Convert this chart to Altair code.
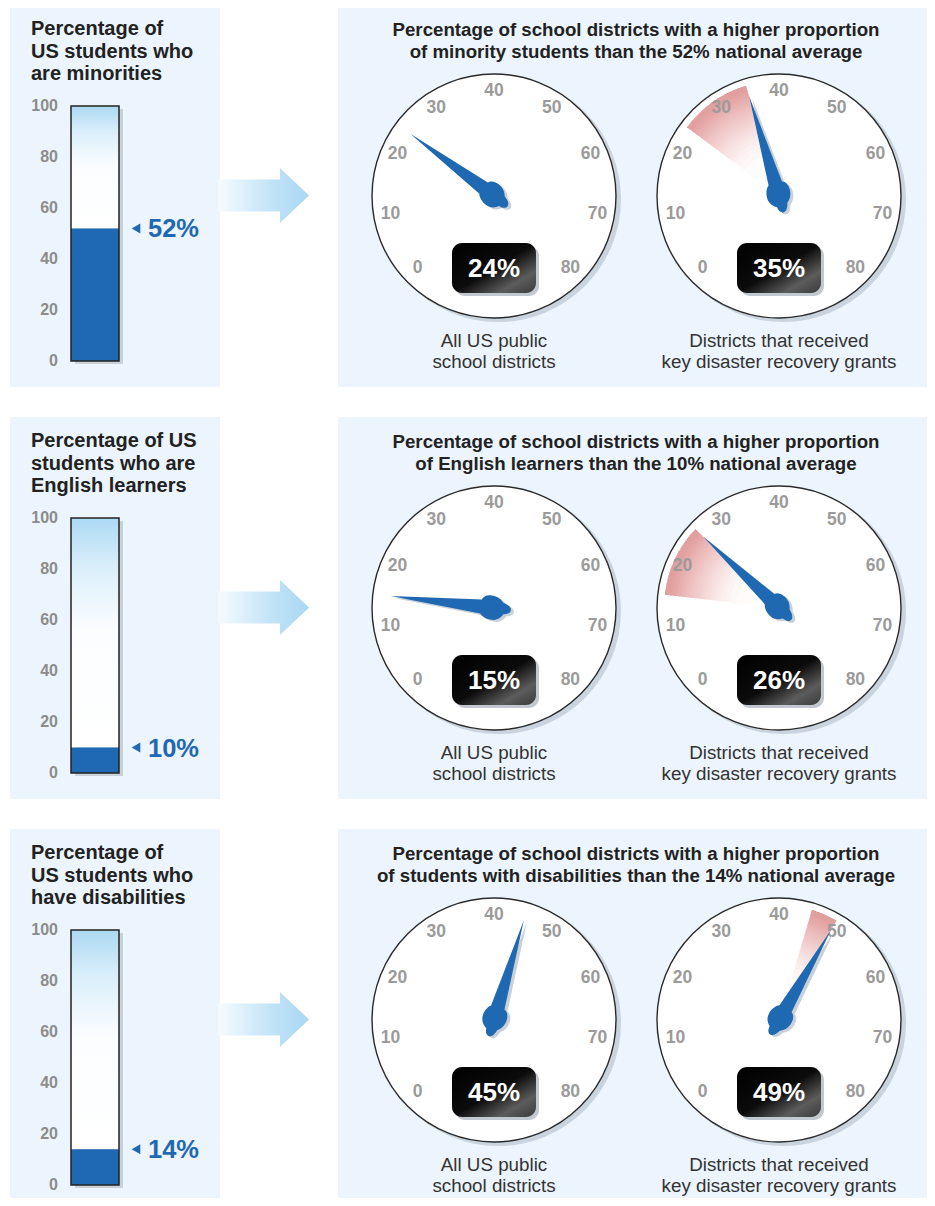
import re
import math
import altair as alt
import pandas as pd

# ---------------- data ----------------
LEFT_TITLES = [
    ["Percentage of", "US students who", "are minorities"],
    ["Percentage of US", "students who are", "English learners"],
    ["Percentage of", "US students who", "have disabilities"],
]
GROUPS = ["minority students", "English learners", "students with disabilities"]
NATIONAL = [52, 10, 14]          # national average share (%)
ALL_US = [24, 15, 45]            # all US public school districts (%)
GRANTS = [35, 26, 49]            # districts that received grants (%)
CAPTIONS = [["All US public", "school districts"],
            ["Districts that received", "key disaster recovery grants"]]
TITLE_LINE1 = "Percentage of school districts with a higher proportion"
THERMO_TICKS = [0, 20, 40, 60, 80, 100]
GAUGE_TICKS = [0, 10, 20, 30, 40, 50, 60, 70, 80]

# ---------------- layout / style ----------------
W, H = 919, 1190
ORIGIN = 8
ROW_DY = 412
LEFT_PANEL = (10, 220)
RIGHT_PANEL = (338, 933)
PANEL_Y = (5, 387)
GAUGE_CX = [494, 779]
GAUGE_CY = 196
DIAL_R = 122
NEEDLE_UNIT = 110
LABEL_R = 105
WEDGE_R = 115
WEDGE_RINGS = 30
BOX_W, BOX_H, BOX_DY = 84, 50, 72
TH_X = (71, 119)
TH_BOTTOM = 361
TH_K = 2.55  # px per percentage point
FONT = "Liberation Sans"
BLUE = "#1f69b2"
PANEL_BG = "#ecf5fd"
DARK = "#222222"

T_HALF = math.radians(400 / 3)  # 133.33 degrees
THETA_SCALE = alt.Scale(domain=[0, 80], range=[2 * math.pi - T_HALF, 2 * math.pi + T_HALF])
ANGLE_SCALE = alt.Scale(domain=[0, 80], range=[360 - 400 / 3, 360 + 400 / 3])
XS = alt.Scale(domain=[ORIGIN, ORIGIN + W], nice=False, zero=False)
YS = alt.Scale(domain=[ORIGIN, ORIGIN + H], reverse=True, nice=False, zero=False)


def X(f):
    return alt.X(f, type="quantitative", scale=XS, axis=None)


def Y(f, scale=YS):
    return alt.Y(f, type="quantitative", scale=scale, axis=None)


def scale_path(s, unit):
    return re.sub(r"-?\d+(?:\.\d+)?", lambda m: f"{float(m.group()) / unit:.4f}", s)


def lin(stops, x1=0, y1=0, x2=1, y2=0):
    return {"gradient": "linear", "x1": x1, "y1": y1, "x2": x2, "y2": y2,
            "stops": [{"offset": o, "color": c} for o, c in stops]}


NEEDLE_PATH = scale_path(
    "M0,-104 L7,-13 C11,-12 13,-6 12,-1 C11,5 8,7 6,9 C5,13 3,17 0,17 "
    "C-3,17 -5,14 -5,10 C-9,8 -12,4 -12,-1 C-12,-6 -10,-11 -7,-13 Z", NEEDLE_UNIT)
ARROW_PATH = scale_path(
    "M-45.5,-16 L16.5,-16 L16.5,-27.5 L45.5,0 L16.5,27.5 L16.5,16 L-45.5,16 Z", 45.5)

# ---------------- tables ----------------
panels = pd.DataFrame([dict(x=a, x2=b, y=PANEL_Y[0] + r * ROW_DY, y2=PANEL_Y[1] + r * ROW_DY)
                       for r in range(3) for (a, b) in [LEFT_PANEL, RIGHT_PANEL]])
arrows = pd.DataFrame([dict(x=263.5, y=195.5 + r * ROW_DY) for r in range(3)])

gauges = []
wedges = []
ticks = []
captions = []
for r in range(3):
    cy = GAUGE_CY + r * ROW_DY
    for g, vals in enumerate([ALL_US, GRANTS]):
        v = vals[r]
        cx = GAUGE_CX[g]
        gauges.append(dict(cx=cx, cy=cy, value=v, label=f"{v}%",
                           bx=cx - BOX_W / 2, bx2=cx + BOX_W / 2,
                           by=cy + BOX_DY - BOX_H / 2, by2=cy + BOX_DY + BOX_H / 2,
                           ty=cy + BOX_DY + 1))
        for t in GAUGE_TICKS:
            ticks.append(dict(cx=cx, cy=cy, tick=t, label=str(t)))
        for i, line in enumerate(CAPTIONS[g]):
            captions.append(dict(x=cx, y=cy + 151 + 21 * i, t=line))
    # stacked translucent sectors: denser toward the rim -> radial fade
    for k in range(WEDGE_RINGS):
        wedges.append(dict(cx=GAUGE_CX[1], cy=cy, lo=ALL_US[r], hi=GRANTS[r],
                           rout=WEDGE_R, rin=28 + 84 * math.sqrt(k / WEDGE_RINGS)))
gauges = pd.DataFrame(gauges)
wedges = pd.DataFrame(wedges)
ticks = pd.DataFrame(ticks)
captions = pd.DataFrame(captions)

left_titles = pd.DataFrame([dict(x=31, y=35 + 22.5 * i + r * ROW_DY, t=line)
                            for r in range(3) for i, line in enumerate(LEFT_TITLES[r])])
right_titles = pd.DataFrame(
    [dict(x=636, y=35.5 + r * ROW_DY, t=TITLE_LINE1) for r in range(3)]
    + [dict(x=636, y=57.5 + r * ROW_DY,
            t=f"of {GROUPS[r]} than the {NATIONAL[r]}% national average") for r in range(3)])

# ---------------- pixel layer ----------------
c_panels = alt.Chart(panels).mark_rect(color=PANEL_BG).encode(
    x=X("x"), x2="x2", y=Y("y"), y2="y2")
c_arrows = alt.Chart(arrows).mark_point(
    shape=ARROW_PATH, filled=True, size=91 ** 2, opacity=1, strokeWidth=0,
    fill=lin([(0, "#f6fbff"), (0.62, "#bfe2f6"), (1, "#a9d7f2")])).encode(x=X("x"), y=Y("y"))

c_dial_shadow = alt.Chart(gauges).mark_point(
    shape="circle", filled=True, color="#c9d4df", size=(2 * DIAL_R + 2) ** 2, opacity=1,
    xOffset=4, yOffset=3).encode(x=X("cx"), y=Y("cy"))
c_dial = alt.Chart(gauges).mark_point(
    shape="circle", filled=True, fill="white", stroke="#2a2a2a", strokeWidth=1.4,
    size=(2 * DIAL_R) ** 2, opacity=1).encode(x=X("cx"), y=Y("cy"))
c_wedge = alt.Chart(wedges).mark_arc(color="#c8554a", opacity=0.023).encode(
    x=X("cx"), y=Y("cy"),
    theta=alt.Theta("lo:Q", scale=THETA_SCALE, stack=False), theta2="hi:Q",
    radius=alt.Radius("rout:Q", scale=None), radius2="rin:Q")
c_ticks = alt.Chart(ticks).mark_text(
    font=FONT, fontSize=17.5, fontWeight="bold", color="#9b9b9b",
    align="center", baseline="middle").encode(
    x=X("cx"), y=Y("cy"),
    theta=alt.Theta("tick:Q", scale=THETA_SCALE, stack=False),
    radius=alt.value(LABEL_R), text="label:N")
c_needle_shadow = alt.Chart(gauges).mark_point(
    shape=NEEDLE_PATH, filled=True, color="#c3cbd3", size=(2 * NEEDLE_UNIT) ** 2,
    opacity=0.9, strokeWidth=0, xOffset=3, yOffset=2).encode(
    x=X("cx"), y=Y("cy"), angle=alt.Angle("value:Q", scale=ANGLE_SCALE))
c_needle = alt.Chart(gauges).mark_point(
    shape=NEEDLE_PATH, filled=True, color=BLUE, size=(2 * NEEDLE_UNIT) ** 2,
    opacity=1, strokeWidth=0).encode(
    x=X("cx"), y=Y("cy"), angle=alt.Angle("value:Q", scale=ANGLE_SCALE))
c_box_shadow = alt.Chart(gauges).mark_rect(
    color="#c2c8ce", cornerRadius=10, xOffset=3, x2Offset=3, yOffset=3, y2Offset=3).encode(
    x=X("bx"), x2="bx2", y=Y("by"), y2="by2")
c_box = alt.Chart(gauges).mark_rect(
    cornerRadius=10,
    fill=lin([(0, "#000000"), (0.5, "#0b0b0b"), (0.78, "#5c5c5c"), (1, "#3a3a3a")],
             x1=0, y1=0, x2=1, y2=1)).encode(
    x=X("bx"), x2="bx2", y=Y("by"), y2="by2")
c_box_text = alt.Chart(gauges).mark_text(
    font=FONT, fontSize=26, fontWeight="bold", color="white",
    align="center", baseline="middle").encode(x=X("cx"), y=Y("ty"), text="label:N")
c_left_titles = alt.Chart(left_titles).mark_text(
    font=FONT, fontSize=20, fontWeight="bold", color=DARK, align="left",
    baseline="alphabetic").encode(x=X("x"), y=Y("y"), text="t:N")
c_right_titles = alt.Chart(right_titles).mark_text(
    font=FONT, fontSize=18.7, fontWeight="bold", color=DARK, align="center",
    baseline="alphabetic").encode(x=X("x"), y=Y("y"), text="t:N")
c_captions = alt.Chart(captions).mark_text(
    font=FONT, fontSize=18.8, color="#333333", align="center",
    baseline="alphabetic").encode(x=X("x"), y=Y("y"), text="t:N")

pixel_layer = alt.layer(
    c_panels, c_arrows, c_dial_shadow, c_dial, c_wedge, c_ticks,
    c_needle_shadow, c_needle, c_box_shadow, c_box, c_box_text,
    c_left_titles, c_right_titles, c_captions)


# ---------------- thermometers ----------------
def thermometer(r):
    base = TH_BOTTOM + r * ROW_DY
    ys = alt.Scale(domain=[(base - ORIGIN - H) / TH_K, (base - ORIGIN) / TH_K],
                   nice=False, zero=False)
    frame = pd.DataFrame([dict(x=TH_X[0], x2=TH_X[1], lo=0, hi=100, v=NATIONAL[r])])
    tk = pd.DataFrame([dict(x=58, t=t, label=str(t)) for t in THERMO_TICKS])
    ptr = pd.DataFrame([dict(px=136, lx=148, v=NATIONAL[r], label=f"{NATIONAL[r]}%")])

    shadow = alt.Chart(frame).mark_rect(
        color="#c8d0d8", xOffset=4, x2Offset=4, yOffset=3, y2Offset=3).encode(
        x=X("x"), x2="x2", y=Y("lo", ys), y2="hi")
    fill = alt.Chart(frame).mark_rect(
        fill=lin([(0, "#acd9f3"), (0.2, "#d8eefa"), (0.48, "#fbfdff"), (1, "#ffffff")],
                 x1=0, y1=0, x2=0, y2=1)).encode(
        x=X("x"), x2="x2", y=Y("v", ys), y2="hi")
    barc = alt.Chart(frame).mark_rect(color=BLUE).encode(
        x=X("x"), x2="x2", y=Y("lo", ys), y2="v")
    outline = alt.Chart(frame).mark_rect(
        filled=False, color="#222222", strokeWidth=1.5).encode(
        x=X("x"), x2="x2", y=Y("lo", ys), y2="hi")
    labels = alt.Chart(tk).mark_text(
        font=FONT, fontSize=16, fontWeight="bold", color="#8c8c8c",
        align="right", baseline="middle").encode(x=X("x"), y=Y("t", ys), text="label:N")
    pointer = alt.Chart(ptr).mark_point(
        shape="triangle-left", filled=True, size=100, color=BLUE, opacity=1).encode(
        x=X("px"), y=Y("v", ys))
    plabel = alt.Chart(ptr).mark_text(
        font=FONT, fontSize=25.5, fontWeight="bold", color=BLUE,
        align="left", baseline="middle", dy=1).encode(x=X("lx"), y=Y("v", ys), text="label:N")
    return alt.layer(shadow, fill, barc, outline, labels, pointer, plabel)


chart = alt.layer(pixel_layer, thermometer(0), thermometer(1), thermometer(2)).resolve_scale(
    y="independent"
).properties(
    width=W, height=H, padding=0, autosize=alt.AutoSizeParams(type="none"), background="white"
).configure_view(stroke=None)

chart.save("out.html", embed_options={"renderer": "svg", "actions": False})
